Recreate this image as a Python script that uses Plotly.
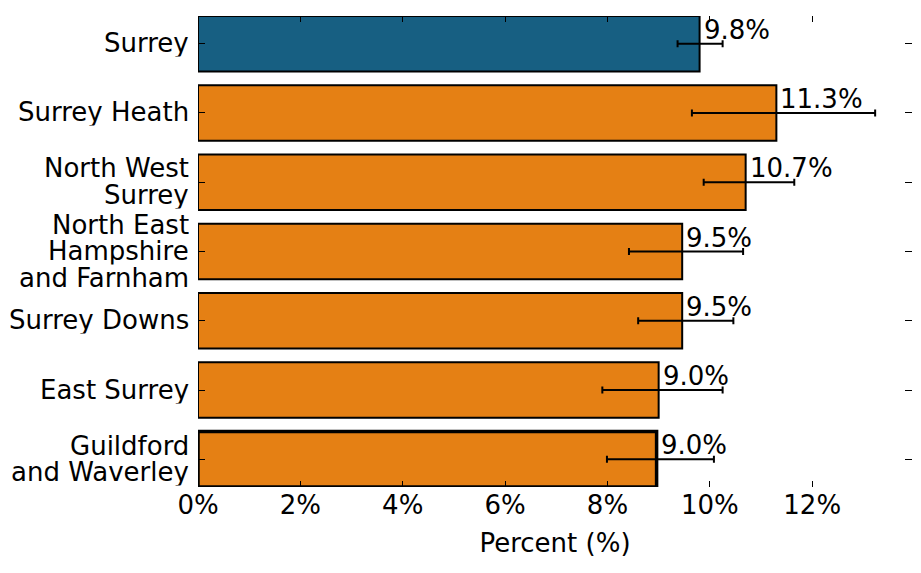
import plotly.graph_objects as go

# Data
areas = ['Surrey', 'Surrey Heath', 'North West<br>Surrey', 'North East<br>Hampshire<br>and Farnham',
         'Surrey Downs', 'East Surrey', 'Guildford<br>and Waverley']
percent = [9.8, 11.3, 10.7, 9.46, 9.46, 9.0, 8.96]
lower = [9.37, 9.65, 9.88, 8.42, 8.60, 7.90, 7.99]
upper = [10.25, 13.23, 11.65, 10.65, 10.46, 10.25, 10.08]
labels = ['9.8%', '11.3%', '10.7%', '9.5%', '9.5%', '9.0%', '9.0%']
x_ticks = [0, 2, 4, 6, 8, 10, 12]
x_tick_text = ['0%', '2%', '4%', '6%', '8%', '10%', '12%']

colors = ['#175f82'] + ['#e58014'] * 6
edge_widths = [2, 2, 2, 2, 2, 2, 3.5]
FONT = 26
LINE = 26.5  # tighter line spacing for the wrapped area names

fig = go.Figure()

# Bars with error bars
fig.add_trace(go.Bar(
    x=percent, y=areas, orientation='h',
    marker=dict(color=colors, line=dict(color='black', width=edge_widths)),
    error_x=dict(type='data', symmetric=False,
                 array=[u - p for u, p in zip(upper, percent)],
                 arrayminus=[p - l for p, l in zip(percent, lower)],
                 color='black', thickness=2, width=3.5),
    hoverinfo='skip', showlegend=False,
))

# Value labels just past the end of each bar
for a, p, t in zip(areas, percent, labels):
    fig.add_annotation(x=p, y=a, text=t, showarrow=False,
                       xanchor='left', yanchor='bottom', xshift=2, yshift=-3,
                       font=dict(size=FONT, color='black'))

# Area names as annotations so wrapped lines sit close together
for a in areas:
    parts = a.split('<br>')
    n = len(parts)
    for i, part in enumerate(parts):
        fig.add_annotation(x=0, xref='paper', y=a, text=part, showarrow=False,
                           xanchor='right', yanchor='middle', xshift=-7,
                           yshift=((n - 1) / 2 - i) * LINE, height=LINE,
                           font=dict(size=FONT, color='black'))

fig.update_layout(
    width=913, height=565,
    margin=dict(l=190, r=9, t=8, b=86),
    plot_bgcolor='white', paper_bgcolor='white',
    bargap=0.2,
    font=dict(family='DejaVu Sans', size=FONT, color='black'),
    xaxis=dict(range=[0, 13.95], tickvals=x_ticks, ticktext=x_tick_text,
               ticks='inside', ticklen=6, tickcolor='black', mirror='ticks',
               showgrid=False, zeroline=False, showline=False,
               title=dict(text='Percent (%)', font=dict(size=FONT), standoff=14),
               tickfont=dict(size=FONT)),
    yaxis=dict(categoryorder='array', categoryarray=areas, range=[6.4, -0.4],
               ticks='inside', ticklen=7, tickcolor='black', mirror='ticks',
               showgrid=False, zeroline=False, showline=False,
               showticklabels=False),
)

fig.write_html("out.html")
